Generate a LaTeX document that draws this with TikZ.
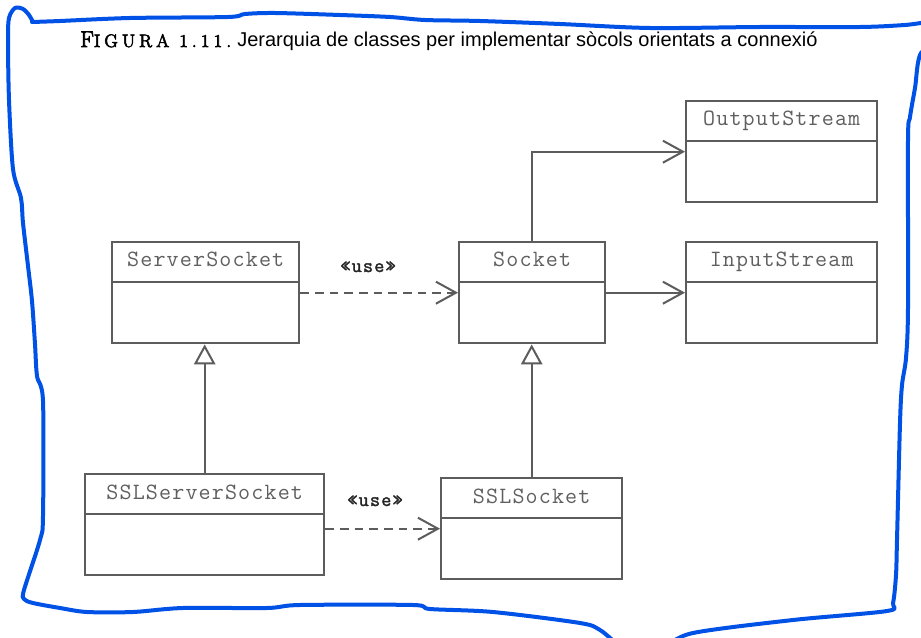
\documentclass[tikz,border=0pt]{standalone}
\usepackage{fontspec}
\newfontfamily\capfont{Liberation Sans}
\newfontfamily\clsfont[LetterSpace=5]{Latin Modern Mono}
\newfontfamily\stereofont[LetterSpace=5, FakeBold=1.6]{Latin Modern Mono}
\newfontfamily\figfont[LetterSpace=22, FakeBold=3]{Latin Modern Roman}
\usetikzlibrary{arrows.meta,calc}

\definecolor{penblue}{RGB}{0,82,230}
\definecolor{umlgray}{RGB}{92,92,92}
\definecolor{namegray}{RGB}{95,95,95}

\tikzstyle{classbox}=[draw=umlgray, line width=1.8pt, shape=rectangle, inner sep=0pt]
\tikzstyle{umlline}=[draw=umlgray, line width=1.8pt]
\tikzstyle{classname}=[font=\clsfont\fontsize{17.5}{19}\selectfont, text=namegray, inner sep=0pt]
\tikzstyle{stereo}=[font=\stereofont\fontsize{15}{17}\selectfont, text=black!85, inner sep=0pt]
\tikzstyle{assoc}=[draw=umlgray, line width=1.5pt, -{Straight Barb[length=15pt,width=16.5pt]}]
\tikzstyle{usedep}=[assoc, dash pattern=on 6.5pt off 4.5pt]
\tikzstyle{inherit}=[draw=umlgray, line width=1.5pt, -{Triangle[open,length=15pt,width=16pt,fill=white]}]
\tikzstyle{pen}=[draw=penblue, line width=3pt, line cap=round, line join=round]

% a class: name, top left corner, width, height, class name
\newcommand{\umlclass}[6]{%
  \node[classbox, anchor=north west, minimum width=#4*0.75pt, minimum height=#5*0.75pt] (#1) at (#2,#3) {};
  \draw[umlline] ($(#1.north west)+(0,41)$) -- ($(#1.north east)+(0,41)$);
  \node[classname, anchor=base] (#1-name) at ($(#1.north)+(0,26)$) {#6};
}

\begin{document}
\begin{tikzpicture}[x=0.75pt, y=-0.75pt]
\useasboundingbox (0,0) rectangle (921,638);
\fill[white] (0,0) rectangle (921,638);
\clip (0,0) rectangle (921,638); % the pen line runs off the sheet

% caption
\node[anchor=base west, inner sep=0pt, font=\figfont] (figlabel) at (80,47)
  {{\fontsize{17}{19}\selectfont F}{\fontsize{13.5}{15}\selectfont IGURA 1.11.}};
\node[anchor=base west, inner sep=0pt, font=\capfont\fontsize{15}{18}\selectfont] (figtitle) at (237,47)
  {Jerarquia de classes per implementar sòcols orientats a connexió};

% classes
\umlclass{server}{111}{241}{187}{101}{ServerSocket}
\umlclass{socket}{458}{241}{146}{101}{Socket}
\umlclass{output}{685}{100}{191}{101}{OutputStream}
\umlclass{input}{685}{241}{191}{101}{InputStream}
\umlclass{sslserver}{84}{473}{239}{101}{SSLServerSocket}
\umlclass{sslsocket}{440}{477}{181}{101}{SSLSocket}

% dependencies and associations
\draw[usedep] (server.east) -- (socket.west);
\node[stereo, anchor=base] (usetop) at (368,272) {«use»};
\draw[usedep] (sslserver.east |- sslsocket.west) -- (sslsocket.west);
\node[stereo, anchor=base] (usebottom) at (375,506) {«use»};
\draw[assoc] (socket.east) -- (input.west);
\draw[assoc] (socket.north) |- (output.west);

% inheritance
\draw[inherit] (sslserver.north) -- (sslserver.north |- server.south);
\draw[inherit] (sslsocket.north) -- (sslsocket.north |- socket.south);

% hand drawn frame
\draw[pen] plot[smooth, tension=0.5] coordinates {
  (32,22) (60,21) (130,18) (228,17) (245,14) (275,13) (340,15) (390,17) (425,20)
  (480,21) (560,24) (650,28) (760,27) (860,27) (905,25) (940,22) (945,40) (921,53)
  (915,88) (910,117) (908,140) (908,308) (906,358) (902,385) (900,423) (897,540)
  (896,575) (893,603) (887,611) (793,620) (693,633) (660,648) (625,648) (600,630)
  (580,623) (493,612) (430,609) (413,605) (300,605) (267,608) (183,608) (133,612)
  (87,612) (60,608) (33,603) (24,599) (24,590) (40,540) (43,516) (43,401) (37,376)
  (35,344) (32,301) (28,266) (23,223) (21,198) (13,169) (9,100) (8,40) (9,18)
  (15,8) (23,9) (29,15) (33,22)};
\end{tikzpicture}
\end{document}
